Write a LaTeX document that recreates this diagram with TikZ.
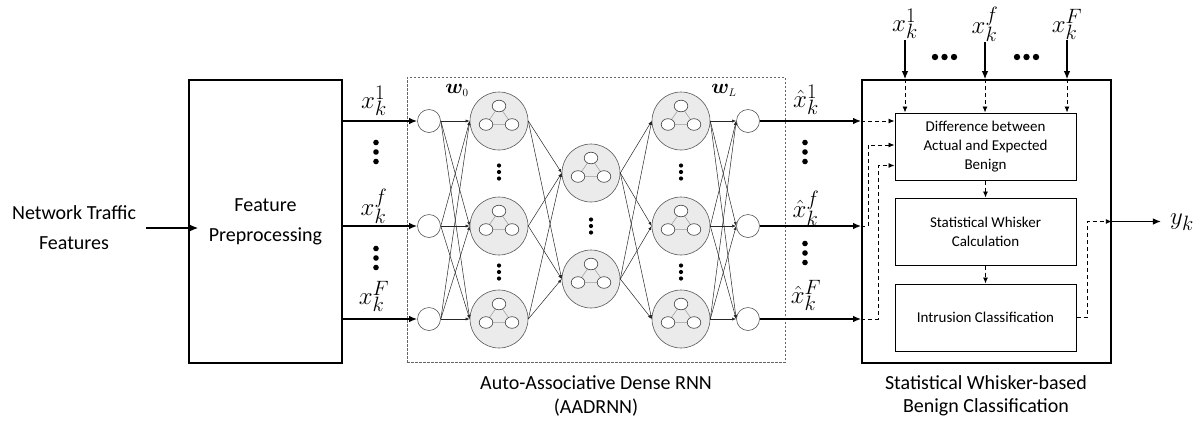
\documentclass[tikz,border=0pt]{standalone}
\usepackage{fontspec}
\usepackage{bm}
\setmainfont{Carlito}
\usetikzlibrary{arrows.meta,calc}
\tikzset{
  lbl/.style={font=\fontsize{20}{30}\selectfont, align=center, inner sep=0pt},
  lbltwo/.style={font=\fontsize{20}{23.5}\selectfont, align=center, inner sep=0pt},
  mlbl/.style={font=\fontsize{28}{32}\selectfont, inner sep=1pt},
  wlbl/.style={font=\fontsize{21}{24}\selectfont, inner sep=0pt},
  neuron/.style={circle, draw=black!65, fill=white, line width=0.6pt, minimum size=23pt, inner sep=0pt},
  cell/.style={circle, draw=black!65, fill=black!8, line width=0.6pt, minimum size=58pt, inner sep=0pt},
  conn/.style={line width=0.5pt, black!85, -{Latex[length=4pt,width=3pt]}},
  thickarr/.style={line width=1.6pt, -{Latex[length=8pt,width=6.5pt]}},
  dasharr/.style={line width=0.9pt, dash pattern=on 4pt off 3pt, -{Latex[length=6pt,width=5pt]}},
  bigbox/.style={draw, line width=1.6pt, fill=white, inner sep=0pt},
  innerbox/.style={draw, line width=1pt, minimum width=181pt, minimum height=67pt, inner sep=0pt, font=\fontsize{15}{19}\selectfont, align=center},
  dashbox/.style={draw=black!60, line width=0.6pt, dash pattern=on 2.5pt off 1.5pt},
  cellin/.pic={
    \draw[black!40, line width=0.5pt] (0,-15) -- (-13,3.5) -- (13,3.5) -- cycle;
    \foreach \px/\py in {0/-15,-13/3.5,13/3.5}
      \draw[black!75, fill=white, line width=0.6pt] (\px,\py) ellipse [x radius=6.8pt, y radius=5.8pt];
  }
}
\begin{document}
\begin{tikzpicture}[x=1pt,y=-1pt]
\useasboundingbox (0,0) rectangle (1201,424);

% ---- left part
\node[lbl] (ntf) at (74,228) {Network Traffic\\Features};
\node[bigbox, minimum width=153pt, minimum height=283pt, font=\fontsize{20}{30}\selectfont, align=center] (fp) at (265.5,221.5) {Feature\\Preprocessing};
\draw[thickarr, line width=1.3pt] ([xshift=10pt]ntf.east) -- ([xshift=10pt]ntf.east -| fp.west);

% ---- AADRNN
\node[dashbox, minimum width=378pt, minimum height=285pt] (aad) at (596,219.5) {};
\node[lbltwo] (capa) at (596,396) {Auto-Associative Dense RNN\\(AADRNN)};
\node[wlbl] (w0) at (457,90) {$\bm{w}_{\scriptscriptstyle 0}$};
\node[wlbl] (wl) at (724,90) {$\bm{w}_{\scriptscriptstyle L}$};

\foreach \i/\y in {1/121,2/226,3/319} {
  \node[neuron] (in\i) at (429,\y) {};
  \node[cell] (a\i) at (499,\y) {};
  \pic at (a\i) {cellin};
  \node[cell] (c\i) at (681,\y) {};
  \pic at (c\i) {cellin};
  \node[neuron] (out\i) at (748,\y) {};
}
\node[cell] (b1) at (591,173) {};
\pic at (b1) {cellin};
\node[cell] (b2) at (591,279) {};
\pic at (b2) {cellin};

\foreach \i in {1,2,3} \foreach \j in {1,2,3} \draw[conn] (in\i.east) -- (a\j.west);
\foreach \i in {1,2,3} \foreach \j in {1,2} \draw[conn] (a\i.east) -- (b\j.west);
\foreach \i in {1,2} \foreach \j in {1,2,3} \draw[conn] (b\i.east) -- (c\j.west);
\foreach \i in {1,2,3} \foreach \j in {1,2,3} \draw[conn] (c\i.east) -- (out\j.west);

% dots inside network
\foreach \x/\y in {499/172,499/272,681/172,681/272,591/226}
  \foreach \d in {-6.5,0,6.5} \fill (\x,\y+\d) circle (2.1pt);

% ---- inputs from preprocessing
\foreach \i in {1,2,3} \draw[thickarr] (fp.east |- in\i) -- (in\i.west);
\node[mlbl] (xl1) at (374,101) {$x_k^1$};
\node[mlbl] (xl2) at (374,206) {$x_k^f$};
\node[mlbl] (xl3) at (374,296) {$x_k^F$};
\foreach \y in {152,258} \foreach \d in {-9.5,0,9.5} \fill (376,\y+\d) circle (2.8pt);

% ---- right block
\node[bigbox, minimum width=249pt, minimum height=283pt] (sw) at (986.5,221.5) {};
\node[lbltwo] (capb) at (986,396) {Statistical Whisker-based\\Benign Classification};
\node[innerbox] (diff) at (985.5,146.5) {Difference between\\Actual and Expected\\Benign};
\node[innerbox] (wh) at (985.5,231.5) {Statistical Whisker\\Calculation};
\node[innerbox] (ic) at (985.5,317.5) {Intrusion Classification};

\foreach \i in {1,2,3} \draw[thickarr] (out\i.east) -- (sw.west |- out\i);
\node[mlbl] (hx1) at (806,100) {$\hat{x}_k^1$};
\node[mlbl] (hx2) at (806,208) {$\hat{x}_k^f$};
\node[mlbl] (hx3) at (806,295) {$\hat{x}_k^F$};
\foreach \y in {152,253} \foreach \d in {-9.5,0,9.5} \fill (805,\y+\d) circle (2.8pt);

% top inputs
\node[mlbl] (tx1) at (905,24) {$x_k^1$};
\node[mlbl] (tx2) at (985,24) {$x_k^f$};
\node[mlbl] (tx3) at (1067,24) {$x_k^F$};
\foreach \t in {tx1,tx2,tx3} {
  \draw[thickarr, line width=1.3pt] (\t.south) -- (\t |- sw.north);
  \draw[dasharr] (\t |- sw.north) -- (\t |- diff.north);
}
\foreach \x in {935,944.5,954,1017,1026.5,1036} \fill (\x,57) circle (3.2pt);

% dashed internal connectors
\coordinate (k2) at (868,0);
\coordinate (k3) at (878,0);
\coordinate (k4) at (1087,0);
\draw[dasharr] (sw.west |- out1) -- (diff.west |- out1);
\draw[dasharr] (sw.west |- out2) -- (k2 |- out2) |- ($(diff.west)+(0,-1.5)$);
\draw[dasharr] (sw.west |- out3) -- (k3 |- out3) |- ($(diff.west)+(0,19)$);
\draw[dasharr] (diff.south) -- (wh.north);
\draw[dasharr] (wh.south) -- (ic.north);
\draw[dasharr] (ic.east) -- (k4 |- ic.east) |- (sw.east);

% output
\node[mlbl] (yk) at (1182,222) {$y_k$};
\draw[thickarr, line width=1.3pt] (sw.east) -- ([xshift=-8pt]sw.east -| yk.west);
\end{tikzpicture}
\end{document}
